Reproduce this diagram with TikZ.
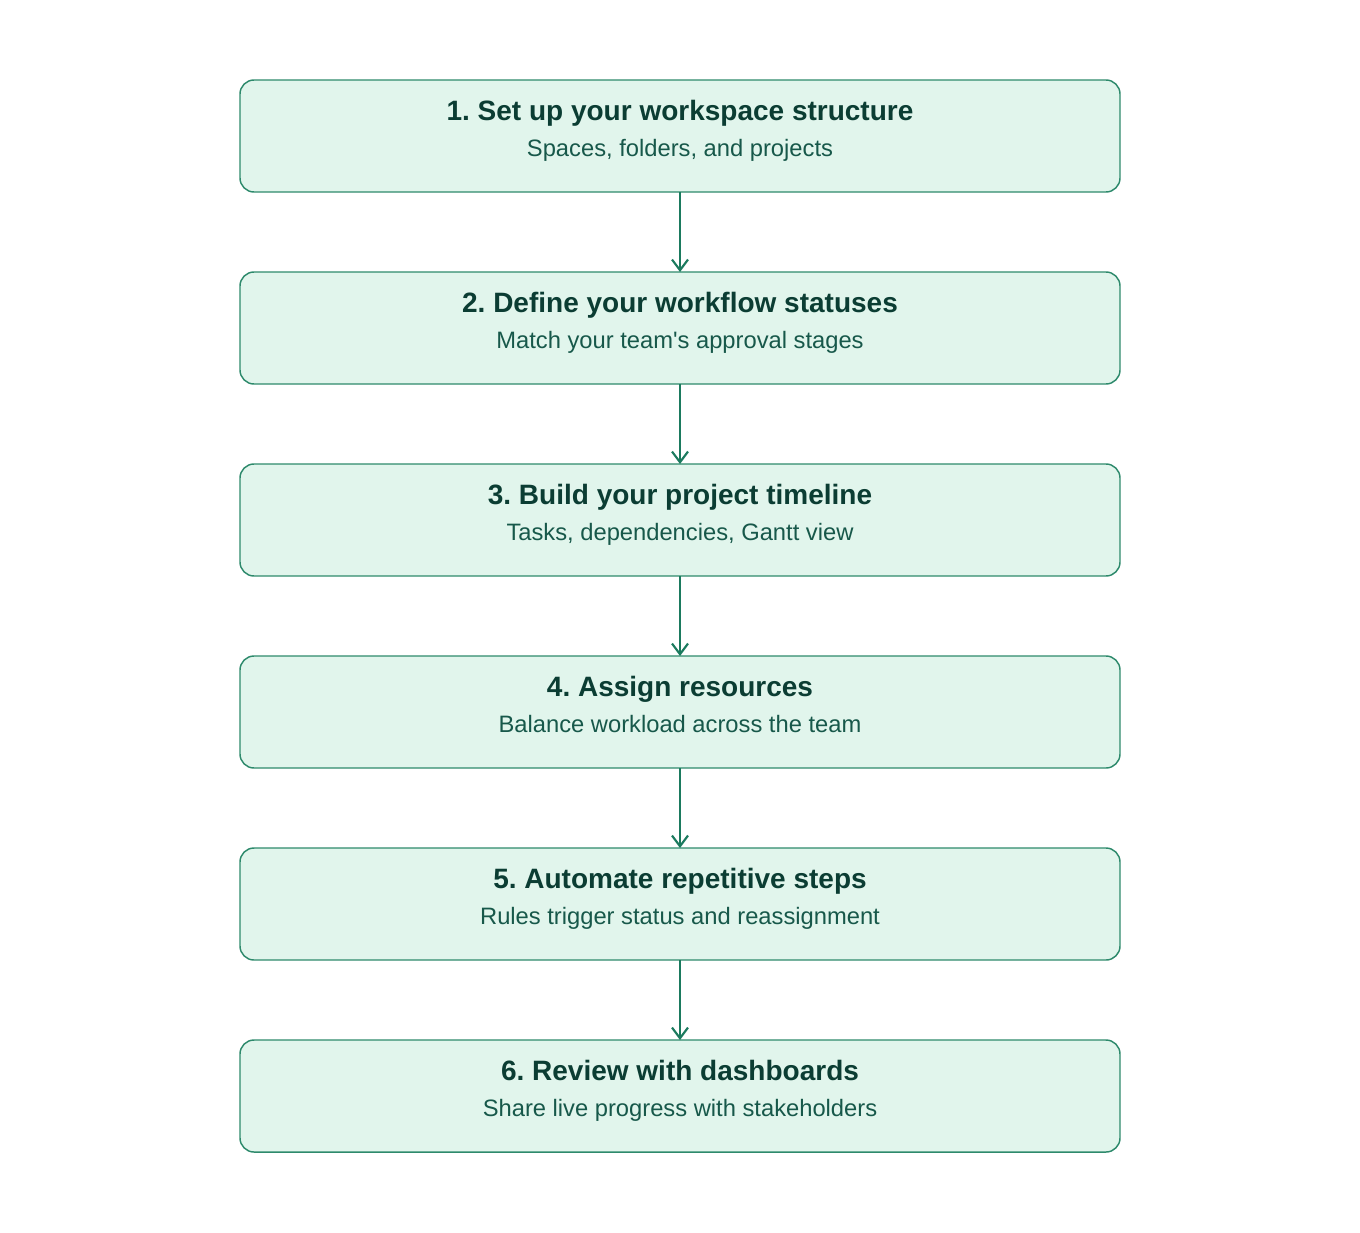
\documentclass[tikz,border=0pt]{standalone}
\usepackage{fontspec}
\setmainfont{Liberation Sans}
\usetikzlibrary{arrows.meta}
\frenchspacing
\definecolor{boxfill}{HTML}{E1F5EC}
\definecolor{boxline}{HTML}{2E8A6C}
\definecolor{titlecol}{HTML}{0B3D33}
\definecolor{subcol}{HTML}{17584A}
\definecolor{arrowcol}{HTML}{1B7A5E}
\tikzset{
  stepbox/.style={draw=boxline, fill=boxfill, line width=1.1pt, rounded corners=10.5pt,
    minimum width=660pt, minimum height=84pt, inner sep=0pt, outer sep=0pt},
  titletext/.style={anchor=base, text=titlecol, font=\fontsize{21}{25}\selectfont\bfseries, inner sep=0pt},
  subtext/.style={anchor=base, text=subcol, font=\fontsize{17.8}{21}\selectfont, inner sep=0pt},
  flowarrow/.style={draw=arrowcol, line width=1.6pt, -{Straight Barb[length=8pt,width=12pt,line width=1.6pt]}}
}
\begin{document}
\begin{tikzpicture}[x=0.75pt,y=-0.75pt]
\useasboundingbox (0,0) rectangle (1360,1232);
\foreach \i/\t/\s in {1/{1. Set up your workspace structure}/{Spaces, folders, and projects},
  2/{2. Define your workflow statuses}/{Match your team\textquotesingle s approval stages},
  3/{3. Build your project timeline}/{Tasks, dependencies, Gantt view},
  4/{4. Assign resources}/{Balance workload across the team},
  5/{5. Automate repetitive steps}/{Rules trigger status and reassignment},
  6/{6. Review with dashboards}/{Share live progress with stakeholders}}{
  \node[stepbox] (b\i) at (680, {136+192*(\i-1)}) {};
  \node[titletext] (t\i) at (680, {120+192*(\i-1)}) {\t};
  \node[subtext] (s\i) at (680, {156+192*(\i-1)}) {\s};
}
\foreach \i [evaluate=\i as \j using int(\i+1)] in {1,...,5}{
  \draw[flowarrow] (b\i.south) -- (b\j.north);
}
\end{tikzpicture}
\end{document}
